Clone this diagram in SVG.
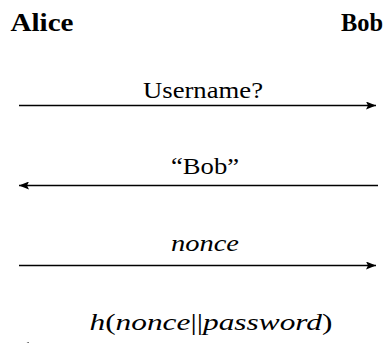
<svg xmlns="http://www.w3.org/2000/svg" width="387" height="343" viewBox="0 0 387 343">
<style>
.t{font-family:"Liberation Serif","DejaVu Serif",serif;fill:#000;text-anchor:middle}
.h{font-size:26px;font-weight:bold}
.l{font-size:24px}
.i{font-family:"Liberation Serif","DejaVu Serif",serif;font-style:italic}
.c{stroke:#000;stroke-width:1.6;fill:none}
</style>
<defs>
<marker id="ah" viewBox="0 0 10 8" refX="10" refY="4" markerWidth="10" markerHeight="8" markerUnits="userSpaceOnUse" orient="auto">
<path d="M0,0 L10,4 L0,8 L2,4 Z" fill="#000"/>
</marker>
</defs>
<g id="alice"><text class="t h" x="42" y="31" textLength="63" lengthAdjust="spacingAndGlyphs">Alice</text></g>
<g id="bob"><text class="t h" x="362" y="31" textLength="42" lengthAdjust="spacingAndGlyphs">Bob</text></g>
<g id="connectors">
<line class="c" x1="19" y1="105.5" x2="376" y2="105.5" marker-end="url(#ah)"/>
<line class="c" x1="378" y1="185.5" x2="19" y2="185.5" marker-end="url(#ah)"/>
<line class="c" x1="19" y1="265.5" x2="376" y2="265.5" marker-end="url(#ah)"/>
<line class="c" x1="378" y1="346" x2="19" y2="346" marker-end="url(#ah)"/>
</g>
<g id="labels">
<text class="t l" x="203" y="98" textLength="120" lengthAdjust="spacingAndGlyphs">Username?</text>
<text class="t l" x="205" y="174" textLength="68" lengthAdjust="spacingAndGlyphs">“Bob”</text>
<text class="t l i" x="205" y="251" textLength="68" lengthAdjust="spacingAndGlyphs">nonce</text>
<text class="t l" x="211" y="330" textLength="243" lengthAdjust="spacingAndGlyphs"><tspan class="i">h</tspan>(<tspan class="i">nonce</tspan>||<tspan class="i">password</tspan>)</text>
</g>
</svg>
